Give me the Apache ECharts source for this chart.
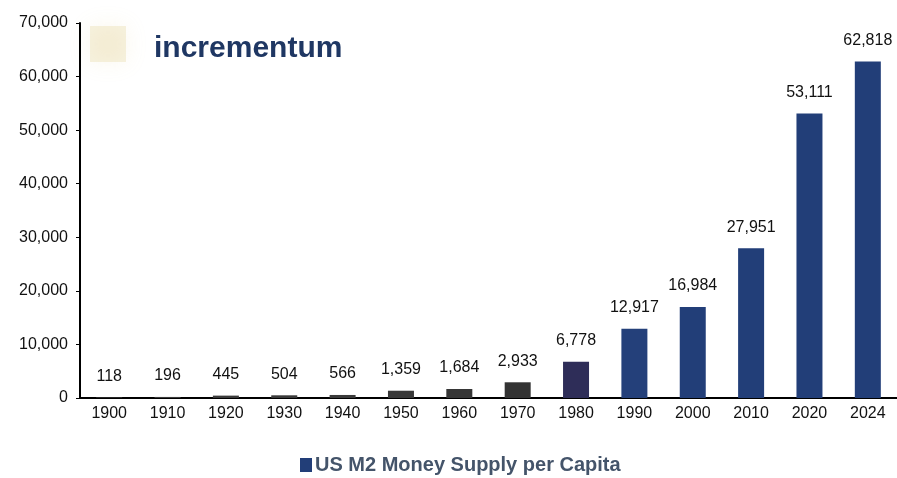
<!DOCTYPE html>
<html>
<head>
<meta charset="utf-8">
<script src="https://cdn.jsdelivr.net/npm/echarts@6/dist/echarts.min.js"></script>
<style>
  html, body { margin: 0; padding: 0; background: #fff; }
  #main { width: 897px; height: 478px; }
</style>
</head>
<body>
<div id="main"></div>
<script>
  'use strict'
  /*-----data-----*/
  var years = ['1900', '1910', '1920', '1930', '1940', '1950', '1960', '1970', '1980', '1990', '2000', '2010', '2020', '2024'];
  var m2PerCapita = [118, 196, 445, 504, 566, 1359, 1684, 2933, 6778, 12917, 16984, 27951, 53111, 62818];
  var seriesName = 'US M2 Money Supply per Capita';
  var barColors = ['#3a3a3a', '#3a3a3a', '#3a3a3a', '#3a3a3a', '#3a3a3a', '#383838', '#363636', '#333333',
    '#2e2d58', '#24407a', '#223e78', '#223e78', '#223e78', '#223e78'];

  var chart = echarts.init(document.getElementById('main'));

  var option = {
    animation: false,
    backgroundColor: '#fff',
    textStyle: { fontFamily: 'Liberation Sans, Arial, sans-serif' },
    grid: {
      top: 23,
      right: 0,
      bottom: 80,
      left: 80
    },
    graphic: [
      {
        type: 'rect',
        left: 90,
        top: 26,
        shape: { width: 36, height: 36 },
        style: { fill: 'rgba(225,205,130,0.25)', shadowBlur: 22, shadowColor: 'rgba(220,200,120,0.55)' },
        z: 0
      },
      {
        type: 'text',
        left: 154,
        top: 34,
        style: {
          text: 'incrementum',
          fill: '#1f3763',
          font: 'bold 30px "Liberation Sans", Arial, sans-serif'
        },
        z: 10
      }
    ],
    legend: {
      top: 450,
      left: 295,
      icon: 'rect',
      itemWidth: 12,
      itemHeight: 14,
      itemGap: 4,
      textStyle: {
        fontSize: 20,
        fontWeight: 'bold',
        color: '#44546a',
        padding: [0, 0, 0, -2]
      },
      data: [{ name: seriesName, itemStyle: { color: '#223e78' } }]
    },
    xAxis: {
      type: 'category',
      data: years,
      axisLine: {
        lineStyle: { color: '#000', width: 2 }
      },
      axisTick: {
        length: 5,
        lineStyle: { color: '#aaa' }
      },
      axisLabel: {
        fontSize: 16,
        color: '#111',
        margin: 8
      }
    },
    yAxis: {
      type: 'value',
      min: 0,
      max: 70000,
      interval: 10000,
      splitLine: { show: false },
      axisLine: {
        show: true,
        lineStyle: { color: '#000', width: 2 }
      },
      axisTick: {
        show: true,
        length: 4,
        lineStyle: { color: '#000' }
      },
      axisLabel: {
        fontSize: 16,
        color: '#111',
        margin: 12,
        formatter: function (v) { return echarts.format.addCommas(v); }
      }
    },
    series: [
      {
        name: seriesName,
        type: 'bar',
        barWidth: 26,
        data: m2PerCapita.map(function (v, i) {
          return { value: v, itemStyle: { color: barColors[i] } };
        }),
        label: {
          show: true,
          position: 'top',
          distance: 13,
          fontSize: 16,
          color: '#111',
          formatter: function (p) { return echarts.format.addCommas(p.value); }
        }
      }
    ]
  };

  chart.setOption(option);
</script>
</body>
</html>
